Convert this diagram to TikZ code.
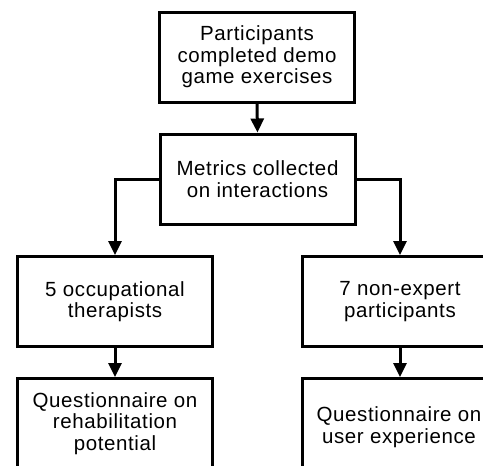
\documentclass[tikz,border=0pt]{standalone}
\usepackage{fontspec}
\setmainfont{Liberation Sans}
\usetikzlibrary{arrows.meta}
\begin{document}
\begin{tikzpicture}[x=1pt,y=-1pt,
  boxfont/.style={font=\addfontfeature{LetterSpace=3}\fontsize{20.5pt}{21.5pt}\selectfont},
  flowbox/.style={draw=black, line width=3pt, minimum width=195pt, minimum height=90pt,
    inner sep=0pt, align=center, boxfont},
  flowarrow/.style={line width=3pt, -{Triangle[width=13pt,length=14pt]}}]
\useasboundingbox (0,0) rectangle (483,466);
\clip (0,0) rectangle (483,466);
\node[flowbox] (b1) at (257,57) {Participants\\completed demo\\game exercises};
\node[flowbox] (b2) at (257.5,179) {Metrics collected\\on interactions};
\node[flowbox] (b3) at (115,301.5) {5 occupational\\therapists};
\node[flowbox] (b4) at (400,301.5) {7 non-expert\\participants};
\node[flowbox] (b5) at (115,423.5) {Questionnaire on\\rehabilitation\\potential};
\node[flowbox] (b6) at (400,423.5) {};
\node[align=center, boxfont, inner sep=0pt] (t6) at (399,427) {Questionnaire on\\user experience};
\draw[flowarrow] (b1.south) -- (b2.north);
\draw[flowarrow] (b2.west) -| (b3.north);
\draw[flowarrow] (b2.east) -| (b4.north);
\draw[flowarrow] (b3.south) -- (b5.north);
\draw[flowarrow] (b4.south) -- (b6.north);
\end{tikzpicture}
\end{document}
